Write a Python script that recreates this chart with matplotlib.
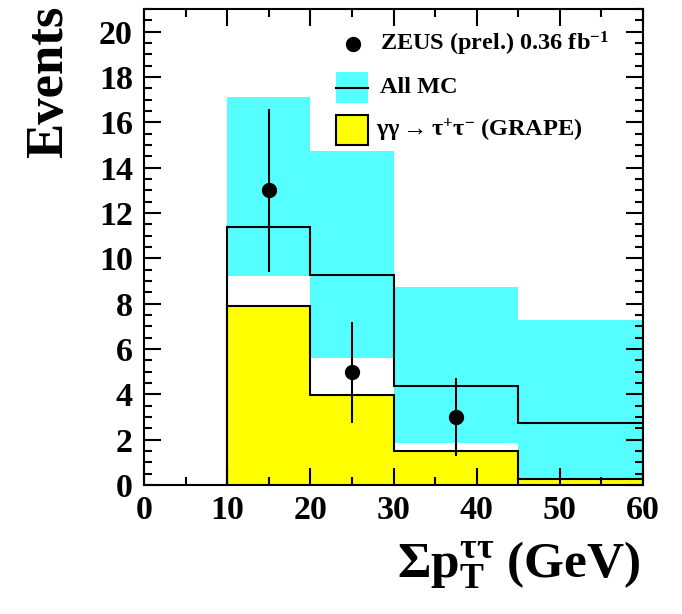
import numpy as np
import matplotlib
matplotlib.use('Agg')
import matplotlib.pyplot as plt
from matplotlib.patches import Rectangle
from matplotlib.ticker import MultipleLocator

plt.rcParams['font.family'] = ['Liberation Serif', 'DejaVu Serif']
plt.rcParams['font.weight'] = 'bold'
plt.rcParams['axes.labelweight'] = 'bold'
plt.rcParams['mathtext.fontset'] = 'custom'
plt.rcParams['mathtext.rm'] = 'Liberation Serif:bold'
plt.rcParams['mathtext.it'] = 'Liberation Serif:bold'
plt.rcParams['mathtext.bf'] = 'Liberation Serif:bold'

# bins in sum pT (GeV)
edges = [10, 20, 30, 45, 60]
mc_total = [11.4, 9.25, 4.35, 2.75]
mc_up = [17.1, 14.75, 8.75, 7.3]
mc_down = [9.2, 5.6, 1.85, 0.3]
grape = [7.9, 3.95, 1.5, 0.27]

# data points
data_x = [15, 25, 37.5]
data_y = [13.0, 5.0, 3.0]
data_err_up = [3.6, 2.2, 1.7]
data_err_dn = [3.6, 2.25, 1.7]

cyan = '#55ffff'
yellow = '#ffff00'

fig = plt.figure(figsize=(6.82, 6.14), dpi=100)
ax = fig.add_axes([144/682, 1 - 485/614, 499/682, 476/614])

# MC uncertainty band
ax.stairs(mc_up, edges, baseline=mc_down, fill=True, color=cyan, lw=0)
# GRAPE signal
ax.stairs(grape, edges, fill=True, color=yellow, lw=0)
ax.stairs(grape, edges, color='black', lw=1.5)
# total MC
ax.stairs(mc_total, edges, color='black', lw=1.5)

ax.errorbar(data_x, data_y, yerr=[data_err_dn, data_err_up], fmt='o',
            color='black', ms=10, elinewidth=1.5, capsize=0, zorder=5)

ax.set_xlim(0, 60)
ax.set_ylim(0, 21)
ax.xaxis.set_major_locator(MultipleLocator(10))
ax.xaxis.set_minor_locator(MultipleLocator(5))
ax.yaxis.set_major_locator(MultipleLocator(2))
ax.yaxis.set_minor_locator(MultipleLocator(0.5))
ax.tick_params(which='both', direction='in', top=True, right=True, width=1.5)
ax.tick_params(which='major', length=12, labelsize=24.5)
ax.tick_params(which='minor', length=6)
ax.tick_params(axis='x', pad=7)
ax.tick_params(axis='y', pad=8)
for s in ax.spines.values():
    s.set_linewidth(1.5)
ax.set_axisbelow(False)

fig.text(49/682, 1 - 6/614, 'Events', fontsize=38, fontweight='bold',
         rotation=90, ha='center', va='top')
ax.set_xlabel(r'$\Sigma$p$_{T}^{\mathregular{\tau\tau}}$ (GeV)', fontsize=37, loc='right')
ax.xaxis.set_label_coords(0.995, -0.115)

# legend drawn in axes fraction
fs = 17.5
ax.plot([0.418], [0.926], 'o', color='black', ms=10, transform=ax.transAxes, clip_on=False)
ax.text(0.473, 0.926, r'ZEUS (prel.) 0.36 fb$^{\mathregular{-1}}$', transform=ax.transAxes,
        fontsize=fs, va='center', ha='left')
ax.add_patch(Rectangle((0.385, 0.802), 0.064, 0.066, transform=ax.transAxes,
                       facecolor=cyan, edgecolor='none'))
ax.plot([0.385, 0.449], [0.835, 0.835], color='black', lw=1.5, transform=ax.transAxes)
ax.text(0.473, 0.836, 'All MC', transform=ax.transAxes, fontsize=fs, va='center', ha='left')
ax.add_patch(Rectangle((0.385, 0.714), 0.064, 0.063, transform=ax.transAxes,
                       facecolor=yellow, edgecolor='black', lw=1.5))
ax.text(0.465, 0.746, r'$\mathregular{\gamma\gamma \rightarrow \tau^{+}\tau^{-}}$ (GRAPE)',
        transform=ax.transAxes, fontsize=fs, va='center', ha='left')

fig.savefig('out.png', dpi=100)
